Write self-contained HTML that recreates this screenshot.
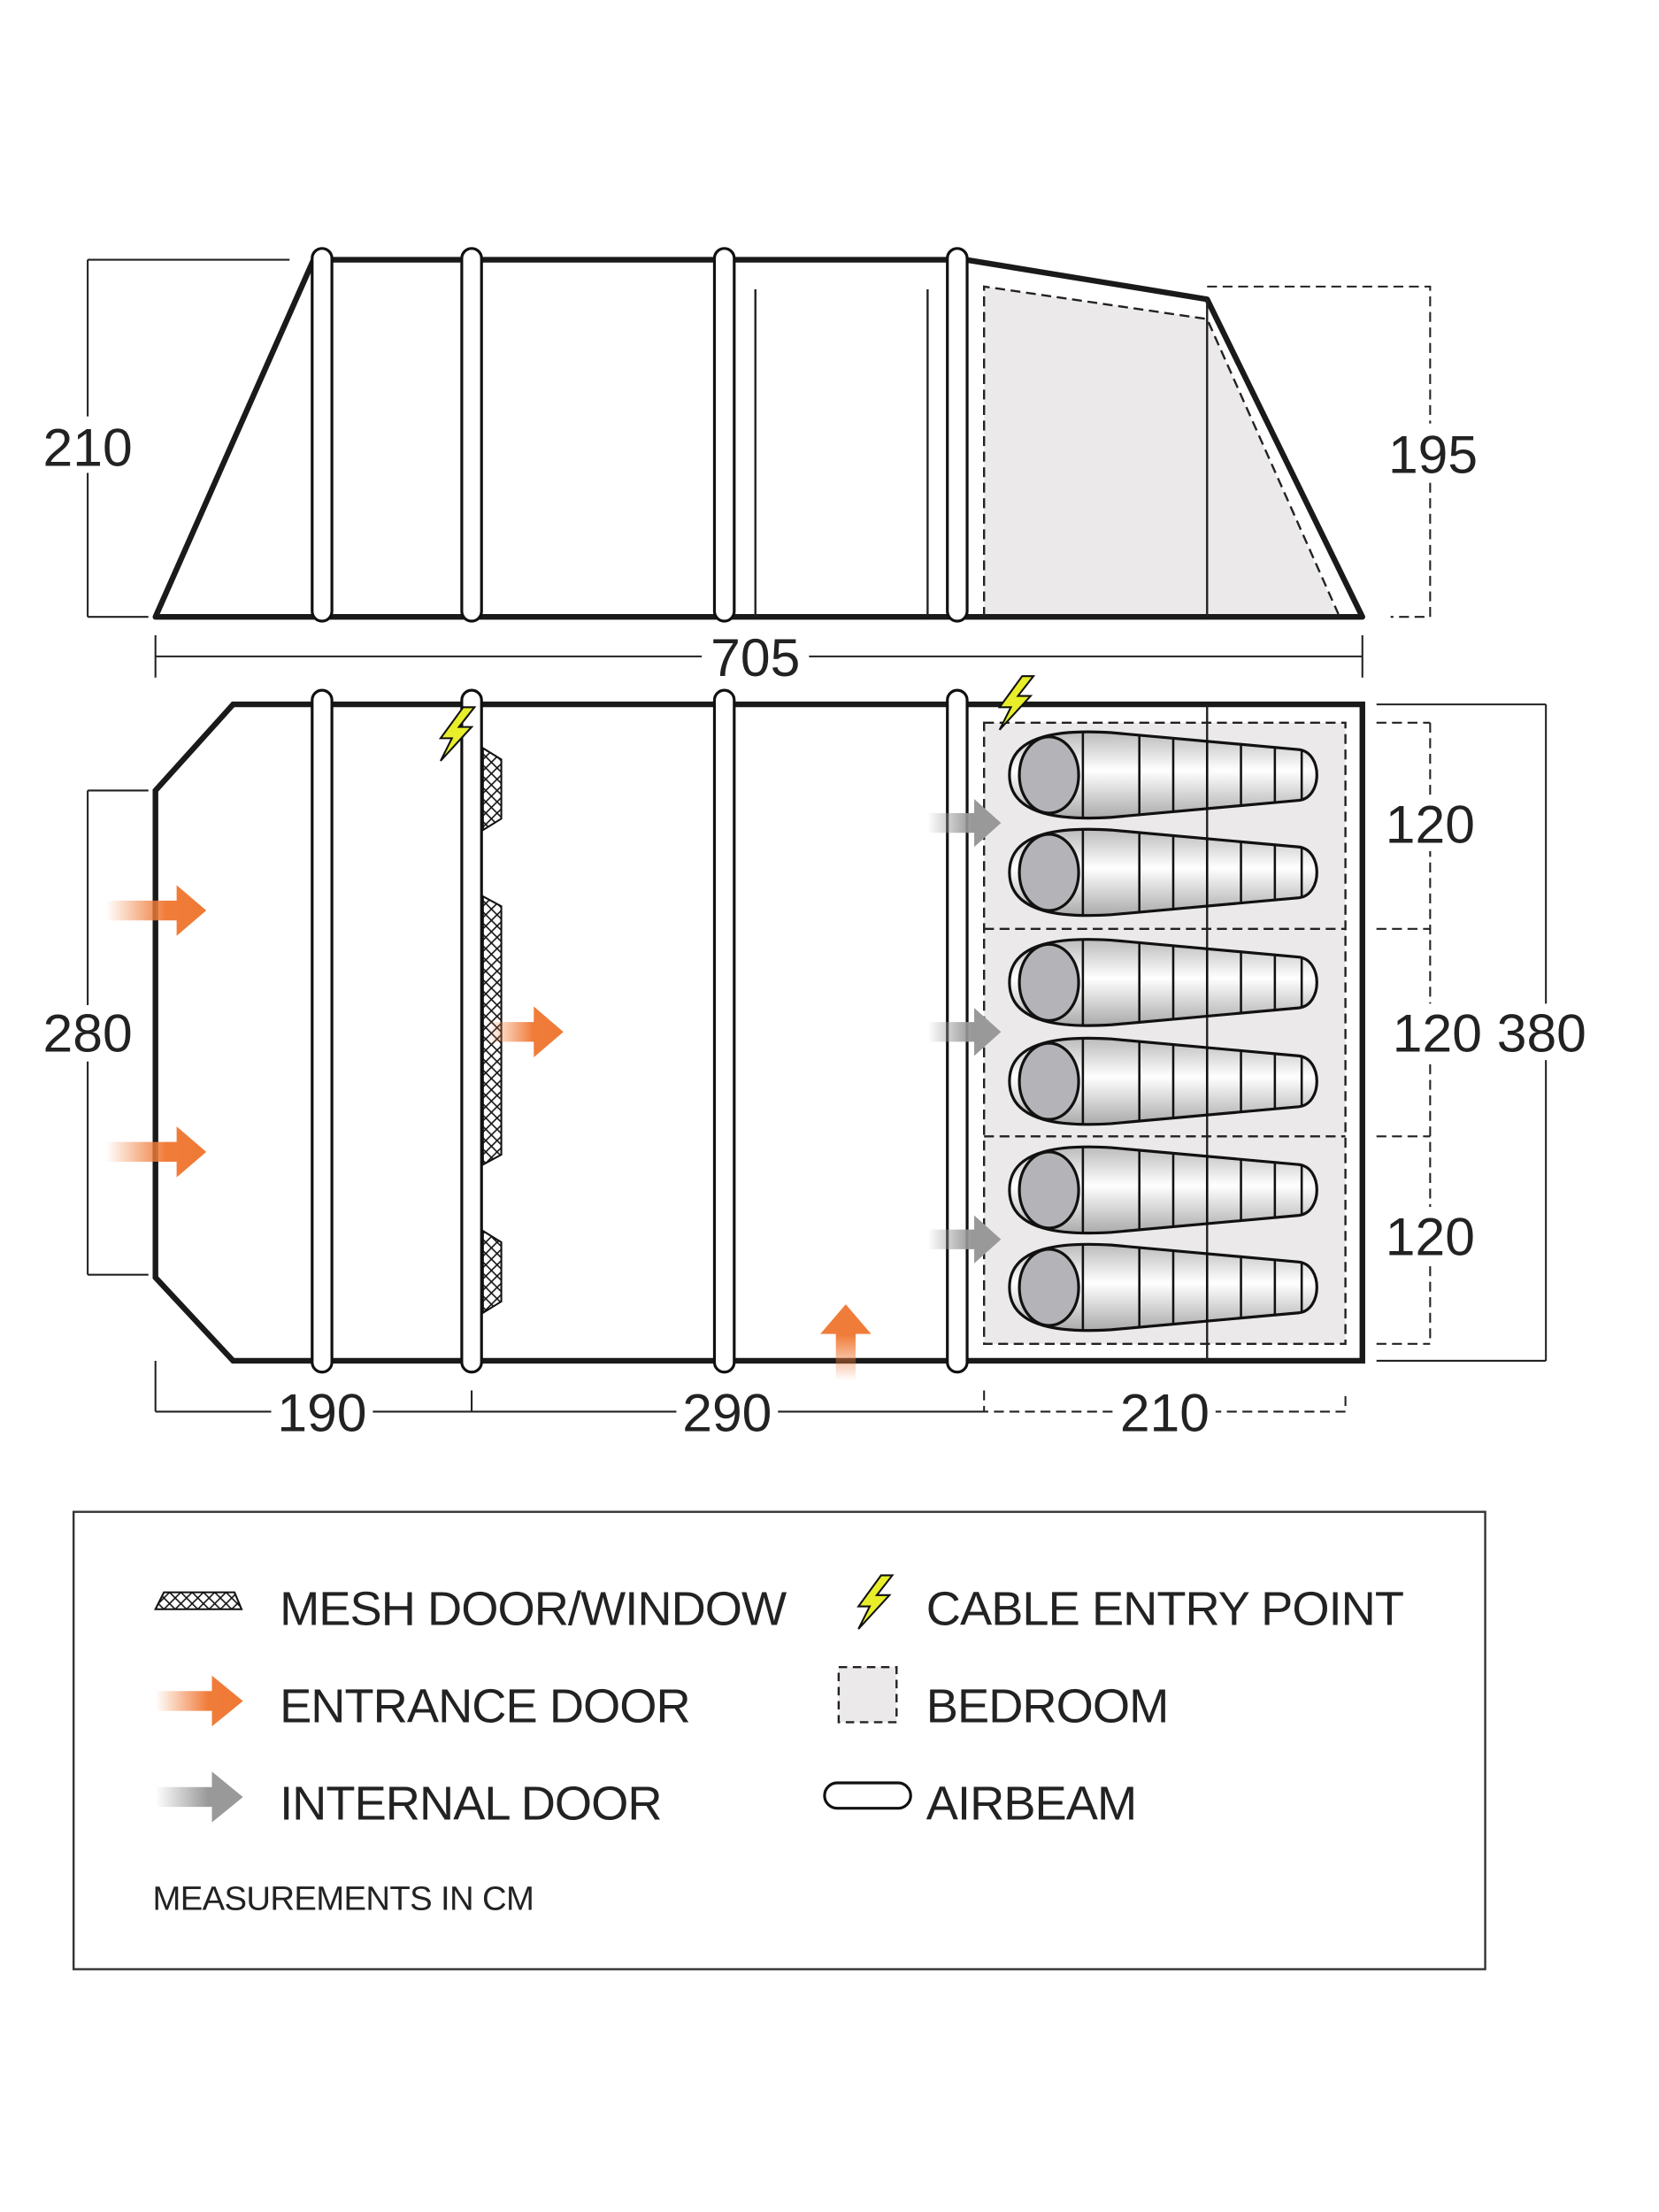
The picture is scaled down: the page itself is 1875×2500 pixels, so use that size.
<!DOCTYPE html>
<html><head><style>html,body{margin:0;padding:0;background:#fff}svg{display:block}</style></head><body>
<svg width="1875" height="2500" viewBox="0 0 1175 1567" xmlns="http://www.w3.org/2000/svg" font-family="Liberation Sans, sans-serif">
<defs>
<linearGradient id="og" x1="0" x2="1"><stop offset="0" stop-color="#f07c3a" stop-opacity="0"/><stop offset="0.6" stop-color="#f07c3a"/><stop offset="1" stop-color="#ef7a35"/></linearGradient>
<linearGradient id="ogv" x1="0" y1="1" x2="0" y2="0"><stop offset="0" stop-color="#f07c3a" stop-opacity="0"/><stop offset="0.6" stop-color="#f07c3a"/></linearGradient>
<linearGradient id="gg" x1="0" x2="1"><stop offset="0" stop-color="#999" stop-opacity="0"/><stop offset="0.6" stop-color="#999"/><stop offset="1" stop-color="#999"/></linearGradient>
<linearGradient id="bag" x1="0" y1="0" x2="0" y2="1"><stop offset="0" stop-color="#bbb"/><stop offset="0.45" stop-color="#fff"/><stop offset="1" stop-color="#aaa"/></linearGradient>
<pattern id="mesh" width="8" height="8" patternUnits="userSpaceOnUse"><rect width="8" height="8" fill="#fff"/><path d="M0 0L8 8M8 0L0 8" stroke="#111" stroke-width="1"/></pattern>
<g id="sb">
<path d="M0 0 C0 -30 40 -32 72 -30 L205 -18 C222 -16 222 16 205 18 L72 30 C40 32 0 30 0 0Z" fill="url(#bag)" stroke="#111" stroke-width="2"/>
<ellipse cx="28" cy="0" rx="21" ry="27" fill="#b4b4b8" stroke="#111" stroke-width="2"/>
<g stroke="#111" stroke-width="1.6"><line x1="52" y1="-31" x2="52" y2="31"/><line x1="92" y1="-28" x2="92" y2="28"/><line x1="116" y1="-26" x2="116" y2="26"/><line x1="140" y1="-24" x2="140" y2="24"/><line x1="164" y1="-22" x2="164" y2="22"/><line x1="188" y1="-20" x2="188" y2="20"/><line x1="207" y1="-17" x2="207" y2="17"/></g>
</g>
<g id="bolt"><polygon points="6,-18 -10,4 -2,4 -10,20 12,-4 3,-4 14,-18" fill="#e8ee2a" stroke="#111" stroke-width="1.3"/></g>
</defs>

<!-- SIDE VIEW -->
<polygon points="697,203 855,226 948,437 697,437" fill="#ece9ea"/>
<polygon points="110,437 222,184 684,184 855,212 965,437" fill="none" stroke="#1a1a1a" stroke-width="4" stroke-linejoin="round"/>
<polyline points="697,437 697,203 855,226 948,435" fill="none" stroke="#222" stroke-width="1.5" stroke-dasharray="7,4"/>
<line x1="855" y1="212" x2="855" y2="437" stroke="#222" stroke-width="1.5"/>
<line x1="535" y1="205" x2="535" y2="437" stroke="#222" stroke-width="1.5"/>
<line x1="657" y1="205" x2="657" y2="437" stroke="#222" stroke-width="1.5"/>
<g fill="#fff" stroke="#111" stroke-width="2">
<rect x="221" y="176" width="14" height="264" rx="7"/><rect x="327" y="176" width="14" height="264" rx="7"/><rect x="506" y="176" width="14" height="264" rx="7"/><rect x="671" y="176" width="14" height="264" rx="7"/>
</g>
<g stroke="#222" stroke-width="1.3" fill="none">
<line x1="62" y1="184" x2="62" y2="437"/><line x1="62" y1="184" x2="205" y2="184"/><line x1="62" y1="437" x2="105" y2="437"/>
<path d="M855 203 H1013 V437 H985" stroke-dasharray="7,4"/>
<line x1="110" y1="465" x2="965" y2="465"/><line x1="110" y1="450" x2="110" y2="480"/><line x1="965" y1="450" x2="965" y2="480"/>
</g>
<g font-size="38" fill="#222" text-anchor="middle">
<rect x="25" y="295" width="75" height="40" fill="#fff"/><text x="62" y="330">210</text>
<rect x="978" y="300" width="75" height="40" fill="#fff"/><text x="1015" y="335">195</text>
<rect x="497" y="445" width="76" height="40" fill="#fff"/><text x="535" y="479">705</text>
</g>

<!-- FLOOR PLAN -->
<rect x="697" y="512" width="256" height="440" fill="#ece9ea"/>
<polygon points="165,499 965,499 965,964 165,964 110,905 110,560" fill="none" stroke="#1a1a1a" stroke-width="4" stroke-linejoin="miter"/>
<g stroke="#222" stroke-width="1.5" fill="none" stroke-dasharray="7,4">
<rect x="697" y="512" width="256" height="440"/><line x1="697" y1="658" x2="953" y2="658"/><line x1="697" y1="805" x2="953" y2="805"/>
</g>
<line x1="855" y1="499" x2="855" y2="964" stroke="#222" stroke-width="1.5"/>
<use href="#sb" x="715" y="549"/><use href="#sb" x="715" y="618"/><use href="#sb" x="715" y="696"/><use href="#sb" x="715" y="766"/><use href="#sb" x="715" y="843"/><use href="#sb" x="715" y="912"/>
<g stroke="#111" stroke-width="1.3" fill="url(#mesh)">
<polygon points="342,530 355,538 355,580 342,588"/>
<polygon points="342,635 355,642 355,818 342,825"/>
<polygon points="342,872 355,880 355,922 342,930"/>
</g>
<g fill="#fff" stroke="#111" stroke-width="2">
<rect x="221" y="489" width="14" height="483" rx="7"/><rect x="327" y="489" width="14" height="483" rx="7"/><rect x="506" y="489" width="14" height="483" rx="7"/><rect x="671" y="489" width="14" height="483" rx="7"/>
</g>
<polygon points="75,638 125,638 125,627 146,645 125,663 125,652 75,652" fill="url(#og)"/>
<polygon points="75,809 125,809 125,798 146,816 125,834 125,823 75,823" fill="url(#og)"/>
<polygon points="345,724 378,724 378,713 399,731 378,749 378,738 345,738" fill="url(#og)"/>
<polygon points="592,978 592,945 581,945 599,924 617,945 606,945 606,978" fill="url(#ogv)"/>
<polygon points="657,576 690,576 690,566 709,583 690,600 690,590 657,590" fill="url(#gg)"/>
<polygon points="657,724 690,724 690,714 709,731 690,748 690,738 657,738" fill="url(#gg)"/>
<polygon points="657,871 690,871 690,861 709,878 690,895 690,885 657,885" fill="url(#gg)"/>
<use href="#bolt" x="322" y="519"/><use href="#bolt" x="718" y="497"/>
<g stroke="#222" stroke-width="1.3" fill="none">
<line x1="62" y1="560" x2="62" y2="903"/><line x1="62" y1="560" x2="105" y2="560"/><line x1="62" y1="903" x2="105" y2="903"/>
<g stroke-dasharray="7,4"><line x1="1013" y1="512" x2="1013" y2="952"/><line x1="975" y1="512" x2="1013" y2="512"/><line x1="975" y1="658" x2="1013" y2="658"/><line x1="975" y1="805" x2="1013" y2="805"/><line x1="975" y1="952" x2="1013" y2="952"/></g>
<line x1="1095" y1="499" x2="1095" y2="964"/><line x1="975" y1="499" x2="1095" y2="499"/><line x1="975" y1="964" x2="1095" y2="964"/>
<line x1="110" y1="964" x2="110" y2="1000"/><line x1="110" y1="1000" x2="334" y2="1000"/><line x1="334" y1="985" x2="334" y2="1000"/>
<line x1="334" y1="1000" x2="697" y2="1000"/>
<path d="M697 985 V1000 H953 V985" stroke-dasharray="7,4"/>
</g>
<g font-size="38" fill="#222" text-anchor="middle">
<rect x="25" y="712" width="75" height="40" fill="#fff"/><text x="62" y="745">280</text>
<rect x="978" y="563" width="70" height="40" fill="#fff"/><text x="1013" y="597">120</text>
<rect x="978" y="711" width="150" height="40" fill="#fff"/><text x="1055" y="745">120 380</text>
<rect x="978" y="855" width="70" height="40" fill="#fff"/><text x="1013" y="889">120</text>
<rect x="192" y="981" width="72" height="40" fill="#fff"/><text x="228" y="1014">190</text>
<rect x="479" y="981" width="72" height="40" fill="#fff"/><text x="515" y="1014">290</text>
<rect x="789" y="981" width="72" height="40" fill="#fff"/><text x="825" y="1014">210</text>
</g>

<!-- LEGEND -->
<rect x="52" y="1071" width="1000" height="324" fill="none" stroke="#333" stroke-width="1.5"/>
<polygon points="110,1140 116,1128 166,1128 171,1140" fill="url(#mesh)" stroke="#111" stroke-width="1.3"/>
<polygon points="110,1198 150,1198 150,1187 172,1205 150,1223 150,1212 110,1212" fill="url(#og)"/>
<polygon points="110,1266 150,1266 150,1255 172,1273 150,1291 150,1280 110,1280" fill="url(#gg)"/>
<use href="#bolt" x="618" y="1134"/>
<rect x="594" y="1181" width="41" height="39" fill="#ece9ea" stroke="#222" stroke-width="1.5" stroke-dasharray="6,4"/>
<rect x="584" y="1263" width="61" height="18" rx="9" fill="#fff" stroke="#111" stroke-width="2"/>
<g font-size="34" fill="#222" letter-spacing="-0.6">
<text x="198" y="1151">MESH DOOR/WINDOW</text>
<text x="198" y="1220">ENTRANCE DOOR</text>
<text x="198" y="1289">INTERNAL DOOR</text>
<text x="656" y="1151">CABLE ENTRY POINT</text>
<text x="656" y="1220">BEDROOM</text>
<text x="656" y="1289">AIRBEAM</text>
<text x="108" y="1353" font-size="24" letter-spacing="-0.4">MEASUREMENTS IN CM</text>
</g>
</svg>
</body></html>
